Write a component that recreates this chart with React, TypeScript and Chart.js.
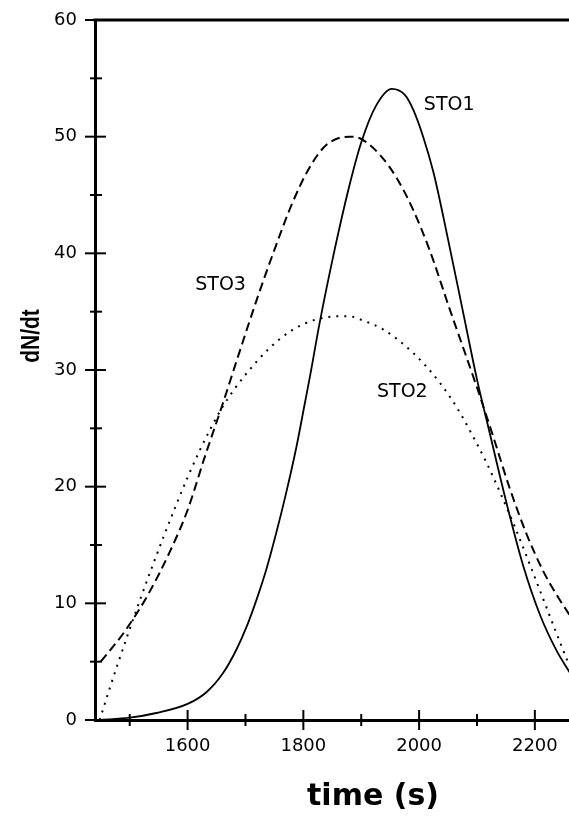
import React, { useEffect, useRef } from 'react';
import { Chart, registerables } from 'chart.js';

Chart.register(...registerables);

// ---- data ----
const sto1Time = [1448, 1500, 1546, 1601, 1633, 1661, 1684, 1702, 1719, 1736, 1753, 1770, 1788, 1802, 1812, 1828, 1854, 1878, 1900, 1925, 1953, 1975, 1990, 2007, 2025, 2050, 2075, 2100, 2122, 2151, 2180, 2209, 2238, 2260];
const sto1Values = [0, 0.2, 0.6, 1.4, 2.4, 4.0, 6.0, 8.0, 10.3, 12.9, 16.0, 19.4, 23.4, 27.0, 29.6, 34.0, 40.3, 45.5, 49.5, 52.6, 54.1, 53.6, 52.3, 50.0, 46.9, 41.2, 35.2, 29.2, 24.6, 18.6, 13.2, 9.0, 5.9, 4.1];

const sto2Time = [1448, 1466, 1480, 1500, 1520, 1540, 1560, 1580, 1600, 1620, 1640, 1660, 1680, 1700, 1740, 1780, 1820, 1860, 1880, 1900, 1937, 1989, 2036, 2065, 2090, 2115, 2140, 2165, 2190, 2215, 2240, 2260];
const sto2Values = [0, 2.8, 4.9, 7.8, 10.6, 13.3, 15.9, 18.4, 20.8, 23.0, 25.0, 26.8, 28.3, 29.6, 31.8, 33.4, 34.3, 34.6, 34.6, 34.3, 33.5, 31.5, 28.9, 26.8, 24.6, 22.2, 19.5, 16.6, 13.5, 10.3, 7.1, 4.6];

const sto3Time = [1450, 1490, 1530, 1570, 1600, 1630, 1660, 1690, 1720, 1750, 1780, 1810, 1840, 1880, 1900, 1933, 1962, 1990, 2018, 2053, 2100, 2128, 2157, 2186, 2214, 2238, 2260];
const sto3Values = [5.0, 7.5, 10.6, 14.5, 18.0, 22.6, 27.0, 31.6, 36.1, 40.3, 44.2, 47.3, 49.3, 50.0, 49.8, 48.4, 46.4, 43.7, 40.3, 35.2, 28.5, 24.3, 19.8, 15.9, 12.8, 10.7, 9.0];

const xTickValues = [1500, 1600, 1700, 1800, 1900, 2000, 2100, 2200];
const xLabelledTicks = [1600, 1800, 2000, 2200];
const yTickValues = [0, 5, 10, 15, 20, 25, 30, 35, 40, 45, 50, 55, 60];
const yLabelledTicks = [0, 10, 20, 30, 40, 50, 60];

const curveLabels = ['STO1', 'STO2', 'STO3'];
const curveLabelTimes = [2052, 1971, 1657];
const curveLabelValues = [52.7, 28.1, 37.3];

const xTitle = 'time (s)';
const yTitle = 'dN/dt';

const toPoints = (xs: number[], ys: number[]) => xs.map((x, i) => ({ x, y: ys[i] }));

const decorPlugin = {
  id: 'decor',
  afterDraw(chart: any) {
    const { ctx, chartArea, scales } = chart;
    const xs = scales.x;
    const ys = scales.y;
    ctx.save();
    ctx.strokeStyle = '#000';
    ctx.lineCap = 'butt';
    // top frame
    ctx.lineWidth = 3;
    ctx.beginPath();
    ctx.moveTo(chartArea.left - 1.5, chartArea.top);
    ctx.lineTo(chartArea.right, chartArea.top);
    ctx.stroke();
    // y tick marks crossing the axis
    ctx.lineWidth = 2;
    yTickValues.forEach((v) => {
      const p = ys.getPixelForValue(v);
      const major = yLabelledTicks.includes(v);
      ctx.beginPath();
      ctx.moveTo(chartArea.left - (major ? 10 : 5), p);
      ctx.lineTo(chartArea.left + (major ? 11 : 7), p);
      ctx.stroke();
    });
    // x tick marks crossing the axis
    xTickValues.forEach((v) => {
      const p = xs.getPixelForValue(v);
      const major = xLabelledTicks.includes(v);
      ctx.beginPath();
      ctx.moveTo(p, chartArea.bottom - (major ? 10 : 6));
      ctx.lineTo(p, chartArea.bottom + (major ? 10 : 6));
      ctx.stroke();
    });
    // curve labels
    ctx.fillStyle = '#000';
    ctx.textAlign = 'center';
    ctx.textBaseline = 'middle';
    ctx.font = '19px "DejaVu Sans"';
    curveLabels.forEach((t, i) => {
      ctx.fillText(t, xs.getPixelForValue(curveLabelTimes[i]), ys.getPixelForValue(curveLabelValues[i]));
    });
    // axis titles
    ctx.font = 'bold 30px "DejaVu Sans"';
    ctx.fillText(xTitle, 373, 797);
    ctx.save();
    ctx.translate(32, 336);
    ctx.scale(1.24, 1);
    ctx.rotate(-Math.PI / 2);
    ctx.font = 'bold 21px "Liberation Sans"';
    ctx.fillText(yTitle, 0, 0);
    ctx.restore();
    ctx.restore();
  },
};

export default function App() {
  const canvasRef = useRef<HTMLCanvasElement | null>(null);

  useEffect(() => {
    const canvas = canvasRef.current;
    if (!canvas) return;
    const common = {
      borderColor: '#000',
      pointRadius: 0,
      tension: 0.4,
      cubicInterpolationMode: 'monotone',
      fill: false,
    };
    const chart = new Chart(canvas, {
      type: 'line',
      data: {
        datasets: [
          { ...common, label: 'STO1', data: toPoints(sto1Time, sto1Values), borderWidth: 1.8 },
          { ...common, label: 'STO2', data: toPoints(sto2Time, sto2Values), borderWidth: 2, borderDash: [2, 6] },
          { ...common, label: 'STO3', data: toPoints(sto3Time, sto3Values), borderWidth: 2, borderDash: [9, 5] },
        ],
      },
      options: {
        responsive: false,
        animation: false,
        layout: { padding: { left: 0, top: 20, right: 0, bottom: 0 } },
        plugins: {
          legend: { display: false },
          tooltip: { enabled: false },
        },
        scales: {
          x: {
            type: 'linear',
            min: 1440,
            max: 2259,
            afterBuildTicks: (scale: any) => {
              scale.ticks = xTickValues.map((v) => ({ value: v }));
            },
            afterFit: (scale: any) => {
              scale.height = 102;
              scale.paddingLeft = 0;
              scale.paddingRight = 0;
            },
            grid: { display: false, drawTicks: false },
            border: { display: true, color: '#000', width: 3 },
            ticks: {
              autoSkip: false,
              maxRotation: 0,
              padding: 16,
              color: '#000',
              font: { family: '"DejaVu Sans"', size: 18 },
              callback: (v: any) => (xLabelledTicks.includes(Number(v)) ? String(v) : ''),
            },
          },
          y: {
            type: 'linear',
            min: 0,
            max: 60,
            afterBuildTicks: (scale: any) => {
              scale.ticks = yTickValues.map((v) => ({ value: v }));
            },
            afterFit: (scale: any) => {
              scale.width = 95;
              scale.paddingTop = 0;
              scale.paddingBottom = 0;
            },
            grid: { display: false, drawTicks: false },
            border: { display: true, color: '#000', width: 3 },
            ticks: {
              autoSkip: false,
              padding: 18,
              color: '#000',
              font: { family: '"DejaVu Sans"', size: 18 },
              callback: (v: any) => (yLabelledTicks.includes(Number(v)) ? String(v) : ''),
            },
          },
        },
      },
      plugins: [decorPlugin],
    });
    return () => chart.destroy();
  }, []);

  return (
    <div style={{ position: 'absolute', left: 0, top: 0, width: 569, height: 822, background: '#fff' }}>
      <canvas ref={canvasRef} width={569} height={822} style={{ display: 'block' }} />
    </div>
  );
}
